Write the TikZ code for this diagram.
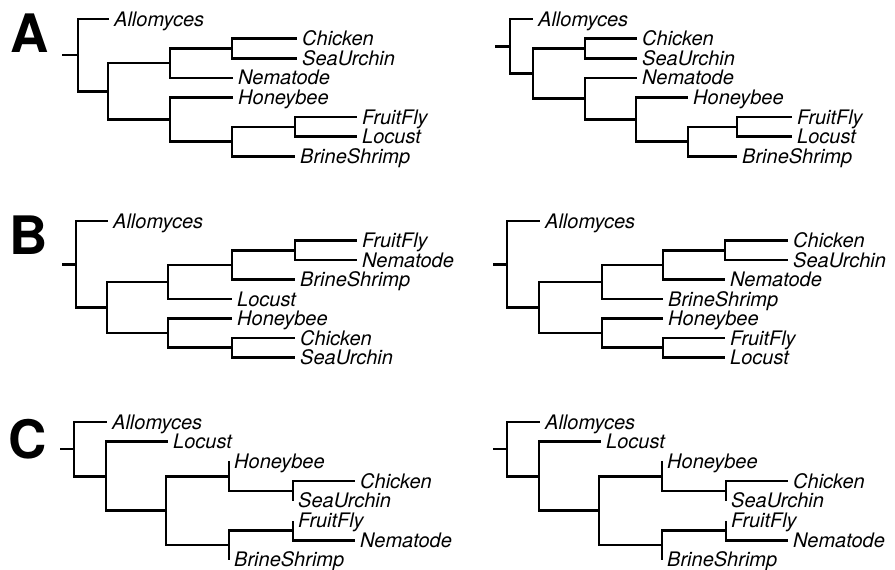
\documentclass[tikz,border=0pt]{standalone}
\usepackage{fontspec}
\setmainfont{TeX Gyre Heros}
\tikzset{
  phyedge/.style={line width=2.6pt},
  phyleaf/.style={anchor=west,inner xsep=5pt,inner ysep=0pt,
                  text height=14pt,text depth=0pt,
                  font=\fontsize{20}{20}\selectfont\itshape},
  phypanel/.style={inner sep=0pt,font=\fontsize{53}{53}\selectfont\bfseries}
}

\begin{document}
\begin{tikzpicture}[x=1pt,y=-1pt]
  \useasboundingbox (0,0) rectangle (895,570);

  \node[phypanel] (labA) at (30,33) {A};
  \node[phypanel] (labB) at (29,235) {B};
  \node[phypanel] (labC) at (28,439) {C};

  % A, left tree
  \begin{scope}[name prefix=al-]
    \foreach \n/\x/\y in {s/62/55.1,r/78/55.1,n1/108/91.3,n2/170/63.1,
        n3/170/119.45,n4/232/48.4,n5/232/141.5,n6/295/126.8}
      \coordinate (\n) at (\x,\y);
    \foreach \n/\x/\y/\txt in {alm/109/19/Allomyces,chk/297/38.6/Chicken,
        sea/297/58.2/SeaUrchin,nem/233/77.8/Nematode,hon/233/97.4/Honeybee,
        fru/357/117/FruitFly,loc/357/136.6/Locust,bri/295/156.2/BrineShrimp}
      {\coordinate (\n) at (\x,\y);
       \node[phyleaf] (\n-txt) at (\n) {\txt};}
    \foreach \p/\c in {s/r,r/alm,r/n1,n1/n2,n1/n3,n2/n4,n2/nem,n4/chk,
        n4/sea,n3/hon,n3/n5,n5/n6,n5/bri,n6/fru,n6/loc}
      \draw[phyedge] (\p) |- (\c);
  \end{scope}

  % A, right tree
  \begin{scope}[name prefix=ar-]
    \foreach \n/\x/\y in {s/495/46.25,r/510/46.25,n1/533/73.5,n2/585/48.4,
        n3/585/98.6,n4/636/119.45,n5/688/141.5,n6/737/126.8}
      \coordinate (\n) at (\x,\y);
    \foreach \n/\x/\y/\txt in {alm/533/19/Allomyces,chk/637/38.6/Chicken,
        sea/637/58.2/SeaUrchin,nem/637/77.8/Nematode,hon/688/97.4/Honeybee,
        fru/792/117/FruitFly,loc/792/136.6/Locust,bri/737/156.2/BrineShrimp}
      {\coordinate (\n) at (\x,\y);
       \node[phyleaf] (\n-txt) at (\n) {\txt};}
    \foreach \p/\c in {s/r,r/alm,r/n1,n1/n2,n1/n3,n2/chk,n2/sea,n3/nem,
        n3/n4,n4/hon,n4/n5,n5/n6,n5/bri,n6/fru,n6/loc}
      \draw[phyedge] (\p) |- (\c);
  \end{scope}

  % B, left tree
  \begin{scope}[name prefix=bl-]
    \foreach \n/\x/\y in {s/62/264.25,r/76/264.25,n1/107/307.5,n2/168/281.9,
        n3/168/333.1,n4/232/264.9,n5/295/250.25,n6/232/347.75}
      \coordinate (\n) at (\x,\y);
    \foreach \n/\x/\y/\txt in {alm/108/221/Allomyces,fru/357/240.5/FruitFly,
        nem/357/260/Nematode,bri/295/279.5/BrineShrimp,loc/232/299/Locust,
        hon/232/318.5/Honeybee,chk/295/338/Chicken,sea/295/357.5/SeaUrchin}
      {\coordinate (\n) at (\x,\y);
       \node[phyleaf] (\n-txt) at (\n) {\txt};}
    \foreach \p/\c in {s/r,r/alm,r/n1,n1/n2,n1/n3,n2/n4,n2/loc,n4/n5,
        n4/bri,n5/fru,n5/nem,n3/hon,n3/n6,n6/chk,n6/sea}
      \draw[phyedge] (\p) |- (\c);
  \end{scope}

  % B, right tree
  \begin{scope}[name prefix=br-]
    \foreach \n/\x/\y in {s/493/264.25,r/507/264.25,n1/539/307.5,n2/602/281.9,
        n3/602/333.1,n4/663/264.9,n5/725/250.25,n6/663/347.75}
      \coordinate (\n) at (\x,\y);
    \foreach \n/\x/\y/\txt in {alm/540/221/Allomyces,chk/788/240.5/Chicken,
        sea/788/260/SeaUrchin,nem/725/279.5/Nematode,bri/663/299/BrineShrimp,
        hon/663/318.5/Honeybee,fru/725/338/FruitFly,loc/725/357.5/Locust}
      {\coordinate (\n) at (\x,\y);
       \node[phyleaf] (\n-txt) at (\n) {\txt};}
    \foreach \p/\c in {s/r,r/alm,r/n1,n1/n2,n1/n3,n2/n4,n2/bri,n4/n5,
        n4/nem,n5/chk,n5/sea,n3/hon,n3/n6,n6/fru,n6/loc}
      \draw[phyedge] (\p) |- (\c);
  \end{scope}

  % C, both trees are the same
  \foreach \sx/\side in {0/l,433/r}{
    \begin{scope}[xshift=\sx pt,name prefix=c\side-]
      \foreach \n/\x/\y in {s/60/449.1,r/74/449.1,n1/106/476.2,n2/166/510.65,
          n3/229/476.2,n4/229/545.1,n5/293/490.95,n6/293/530.35}
        \coordinate (\n) at (\x,\y);
      \foreach \n/\x/\y/\txt in {alm/107/422/Allomyces,loc/168/441.7/Locust,
          hon/229/461.4/Honeybee,chk/355/481.1/Chicken,sea/293/500.8/SeaUrchin,
          fru/293/520.5/FruitFly,nem/355/540.2/Nematode,bri/229/559.9/BrineShrimp}
        {\coordinate (\n) at (\x,\y);
         \node[phyleaf] (\n-txt) at (\n) {\txt};}
      \foreach \p/\c in {s/r,r/alm,r/n1,n1/loc,n1/n2,n2/n3,n2/n4,n3/hon,
          n3/n5,n5/chk,n5/sea,n4/n6,n4/bri,n6/fru,n6/nem}
        \draw[phyedge] (\p) |- (\c);
    \end{scope}
  }
\end{tikzpicture}
\end{document}
